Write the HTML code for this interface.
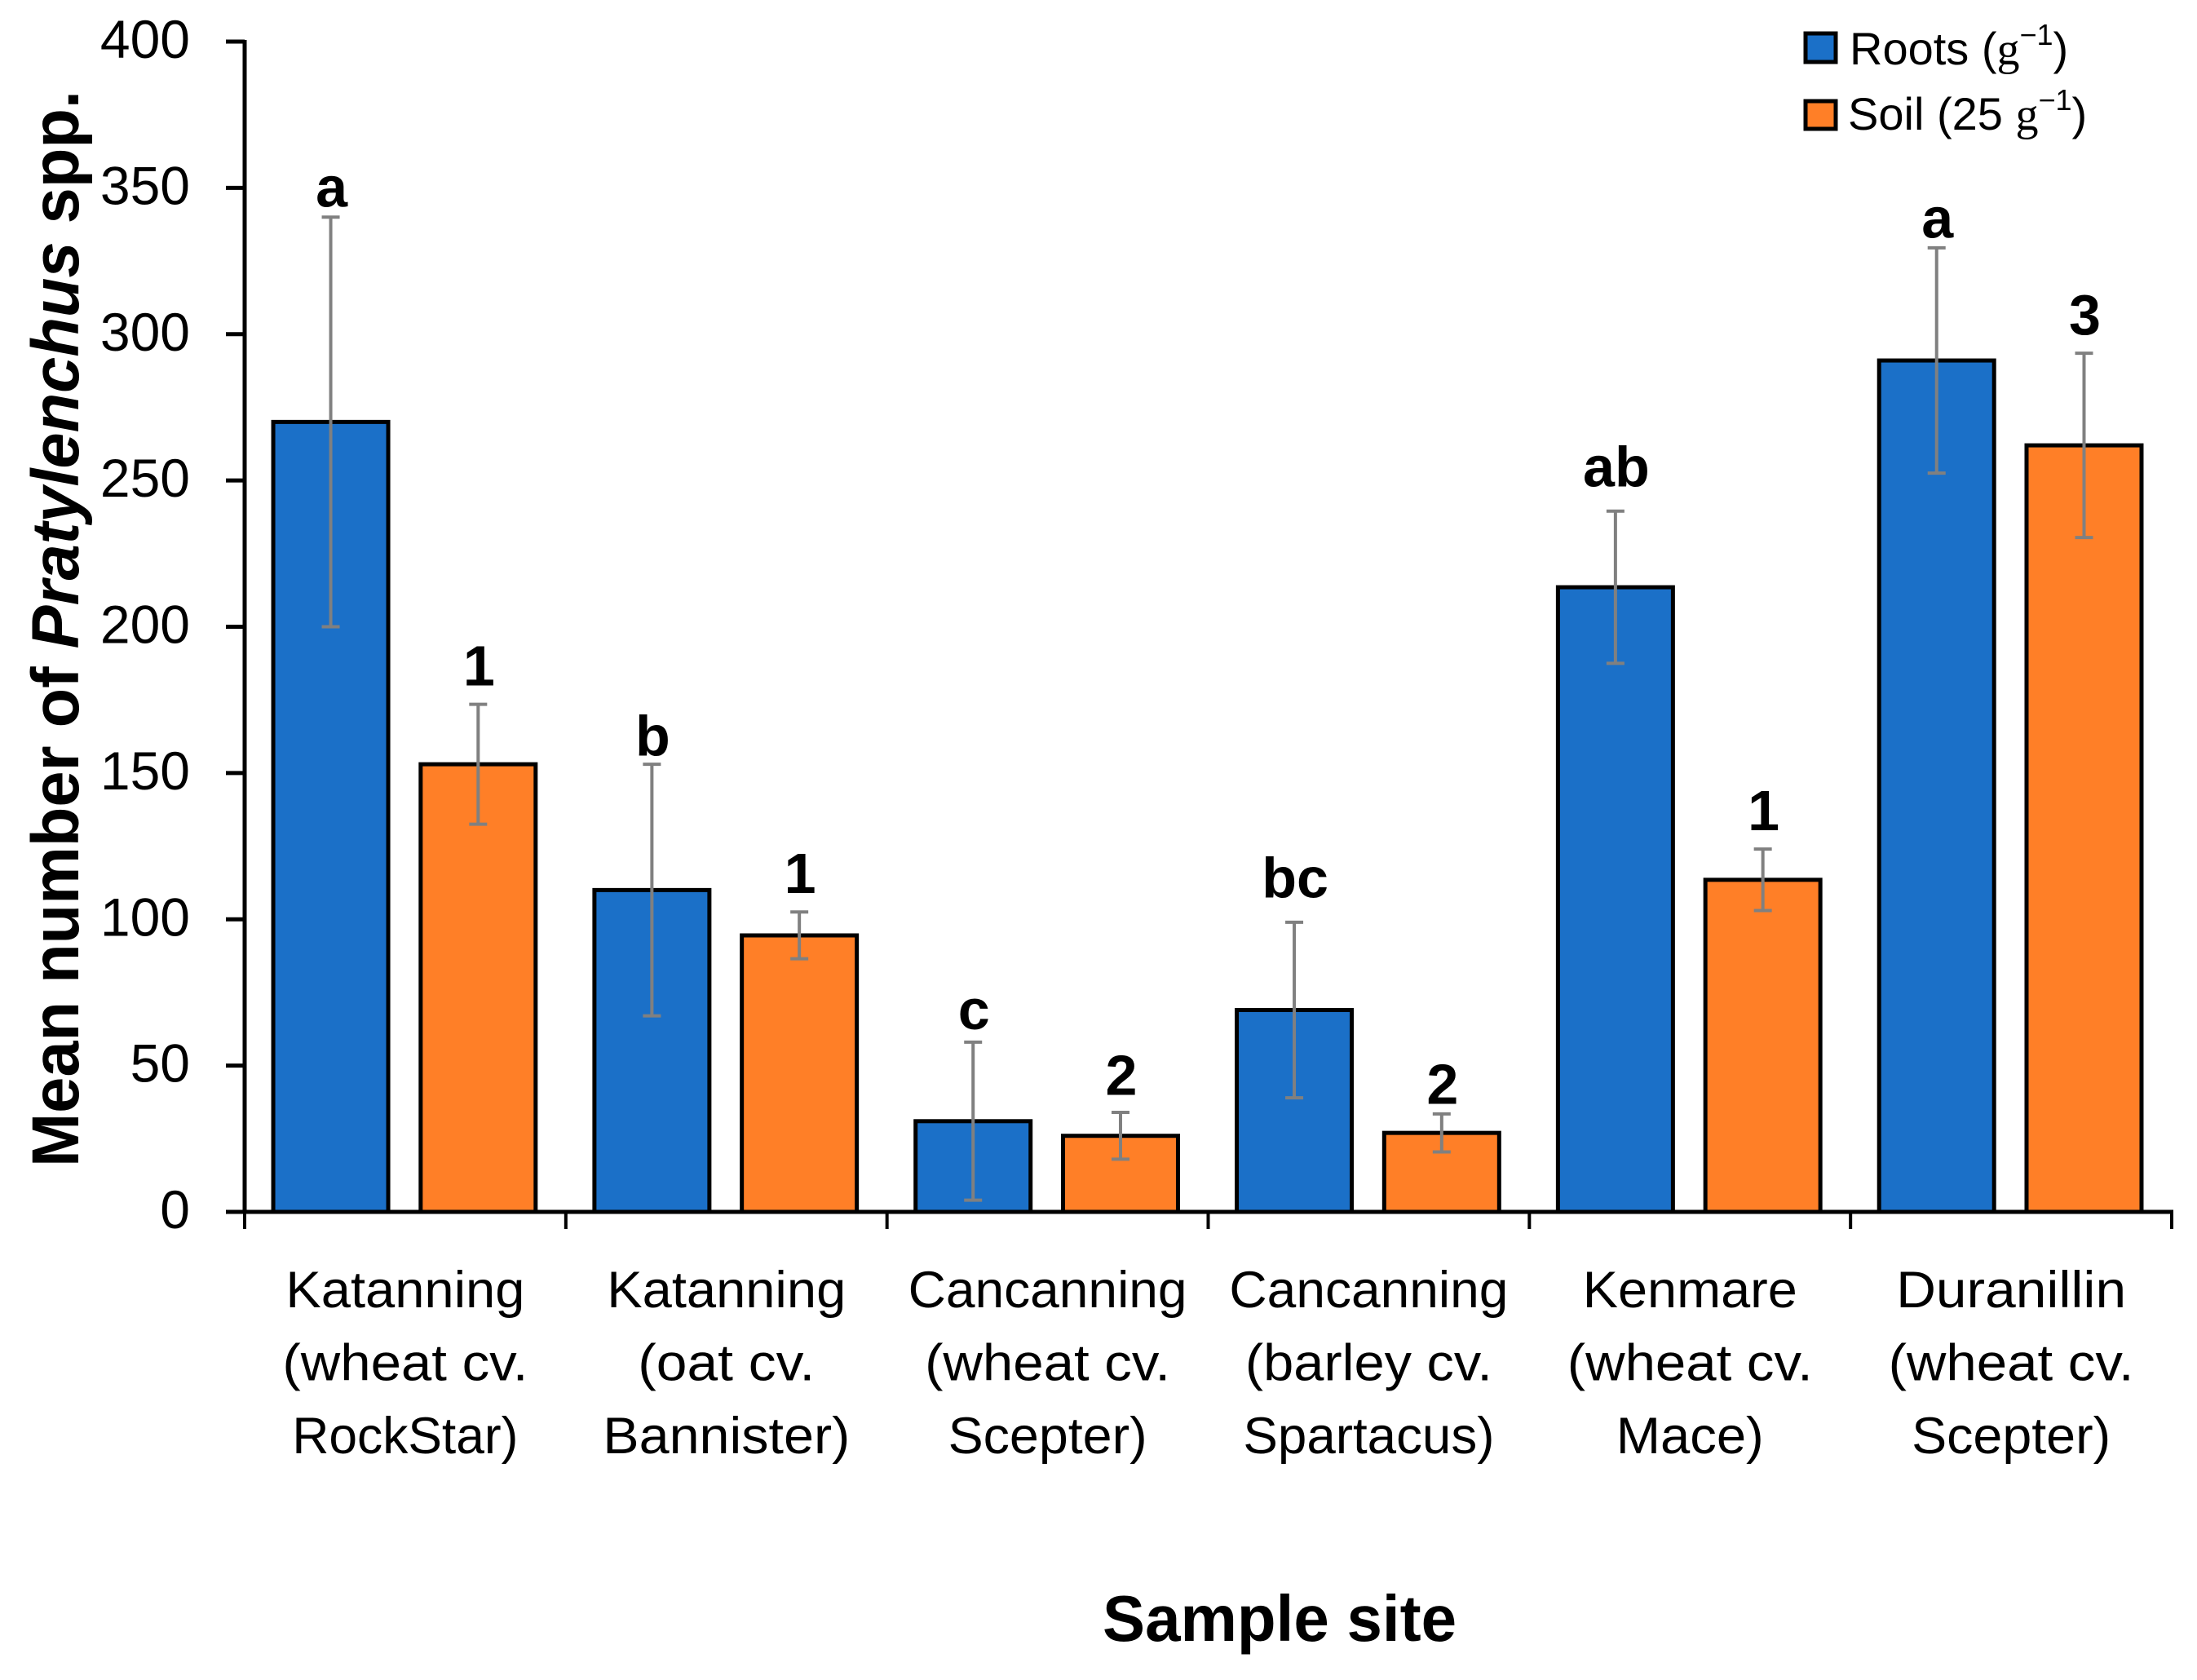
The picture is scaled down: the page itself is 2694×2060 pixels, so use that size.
<!DOCTYPE html>
<html lang="en">
<head>
<meta charset="utf-8">
<title>Mean number of Pratylenchus spp. by sample site</title>
<style>
html,body{margin:0;padding:0;background:#fff;width:2694px;height:2060px;overflow:hidden}
svg{display:block}
text{font-family:"Liberation Sans",sans-serif;fill:#000}
.b{font-weight:700}
</style>
</head>
<body>
<svg id="chart" xmlns="http://www.w3.org/2000/svg" width="2694" height="2060" viewBox="0 0 2694 2060">
  <rect width="2694" height="2060" fill="#fff"/>
  <g id="marks"></g>
  <g id="axes"></g>
  <text class="b" font-size="82" transform="translate(96 1431) rotate(-90)" textLength="1320" lengthAdjust="spacingAndGlyphs">Mean number of <tspan font-style="italic">Pratylenchus</tspan> spp.</text>
  <text class="b" font-size="80" x="1352" y="2012" textLength="434" lengthAdjust="spacingAndGlyphs">Sample site</text>
  <g>
    <rect x="2214" y="41" width="37" height="35" fill="#1B70C8" stroke="#000" stroke-width="5"/>
    <text x="2268" y="79" font-size="56">Roots (<tspan font-family="Liberation Serif">g</tspan><tspan font-size="36" dy="-24">−1</tspan><tspan dy="24">)</tspan></text>
    <rect x="2214" y="124" width="37" height="34" fill="#FF7F27" stroke="#000" stroke-width="5"/>
    <text x="2266" y="159" font-size="56">Soil (25 <tspan font-family="Liberation Serif">g</tspan><tspan font-size="36" dy="-24">−1</tspan><tspan dy="24">)</tspan></text>
  </g>
</svg>
<script>
const categoryLines = [
  ["Katanning", "(wheat cv.", "RockStar)"],
  ["Katanning", "(oat cv.", "Bannister)"],
  ["Cancanning", "(wheat cv.", "Scepter)"],
  ["Cancanning", "(barley cv.", "Spartacus)"],
  ["Kenmare", "(wheat cv.", "Mace)"],
  ["Duranillin", "(wheat cv.", "Scepter)"]
];
const yTicks = [0, 50, 100, 150, 200, 250, 300, 350, 400];
const rootsValues = [270, 110, 31, 69, 213.5, 291];
const soilValues = [153, 94.5, 26, 27, 113.5, 262];
const rootsErrors = [70, 43, 27, 30, 26, 38.5];
const soilErrors = [20.5, 8, 8, 6.5, 10.5, 31.5];
const rootsLetters = ["a", "b", "c", "bc", "ab", "a"];
const soilLetters = ["1", "1", "2", "2", "1", "3"];
const rootsLetterLevels = [343.5, 156, 62.5, 107.5, 248, 333];
const soilLetterLevels = [180, 109, 40, 37, 130.5, 300];

/* Rendered widths of the label lines, to match the reference's typeface metrics. */
const labelLineWidth = {
  "Katanning": 293, "(wheat cv.": 301, "RockStar)": 277, "(oat cv.": 217, "Bannister)": 303,
  "Cancanning": 342, "Scepter)": 244, "(barley cv.": 303, "Spartacus)": 308,
  "Kenmare": 263, "Mace)": 181, "Duranillin": 282
};

const NS = "http://www.w3.org/2000/svg";
const plotLeft = 300, plotRight = 2663, plotBase = 1486, plotTop = 51, yMax = 400;
const groupW = (plotRight - plotLeft) / categoryLines.length;
const barW = groupW * 0.358;
const y = v => plotBase - (v / yMax) * (plotBase - plotTop);
const groupX = i => plotLeft + i * groupW;
const marks = document.getElementById("marks");
const axes = document.getElementById("axes");

function make(tag, attrs, parent, txt) {
  const el = document.createElementNS(NS, tag);
  for (const k in attrs) el.setAttribute(k, attrs[k]);
  if (txt !== undefined) el.textContent = txt;
  parent.appendChild(el);
  return el;
}

function drawSeries(key, values, errors, letters, levels, frac, color) {
  values.forEach((v, i) => {
    const cx = groupX(i) + groupW * frac;
    const bar = make("rect", {x: cx - barW / 2, y: y(v), width: barW, height: plotBase - y(v), fill: color, stroke: "#000", "stroke-width": 5}, marks);
    
    
    const g = make("g", {stroke: "#808080", "stroke-width": 4, fill: "none"}, marks);
    
    
    const hi = y(v + errors[i]), lo = y(v - errors[i]);
    make("line", {x1: cx, x2: cx, y1: hi, y2: lo}, g);
    make("line", {x1: cx - 11, x2: cx + 11, y1: hi, y2: hi}, g);
    make("line", {x1: cx - 11, x2: cx + 11, y1: lo, y2: lo}, g);
    const t = make("text", {x: cx + 1, y: y(levels[i]), "text-anchor": "middle", "font-size": 70, "class": "b"}, marks, letters[i]);
    
    
  });
}
drawSeries("roots", rootsValues, rootsErrors, rootsLetters, rootsLetterLevels, 0.268, "#1B70C8");
drawSeries("soil", soilValues, soilErrors, soilLetters, soilLetterLevels, 0.727, "#FF7F27");

const yLine = make("line", {x1: plotLeft, x2: plotLeft, y1: plotTop - 2, y2: plotBase + 2, stroke: "#000", "stroke-width": 5}, axes);


const xLine = make("line", {x1: plotLeft - 23, x2: plotRight + 2, y1: plotBase, y2: plotBase, stroke: "#000", "stroke-width": 5}, axes);



yTicks.forEach(v => {
  const tick = make("line", {x1: plotLeft - 23, x2: plotLeft, y1: y(v), y2: y(v), stroke: "#000", "stroke-width": 5}, axes);
  
  
  const label = make("text", {x: 233, y: y(v) + 20, "text-anchor": "end", "font-size": 66}, axes, String(v));
  
  
});

for (let i = 0; i <= categoryLines.length; i++) {
  const tick = make("line", {x1: groupX(i), x2: groupX(i), y1: plotBase, y2: 1507, stroke: "#000", "stroke-width": 4}, axes);
  
  
}
categoryLines.forEach((lines, i) => {
  const group = make("g", {}, axes);
  
  
  lines.forEach((line, j) => {
    const attrs = {x: groupX(i) + groupW / 2, y: 1603 + j * 89.5, "text-anchor": "middle", "font-size": 63};
    if (labelLineWidth[line]) {
      attrs.textLength = labelLineWidth[line];
      attrs.lengthAdjust = "spacingAndGlyphs";
    }
    const t = make("text", attrs, group, line);
    
    
  });
});
</script>
</body>
</html>
